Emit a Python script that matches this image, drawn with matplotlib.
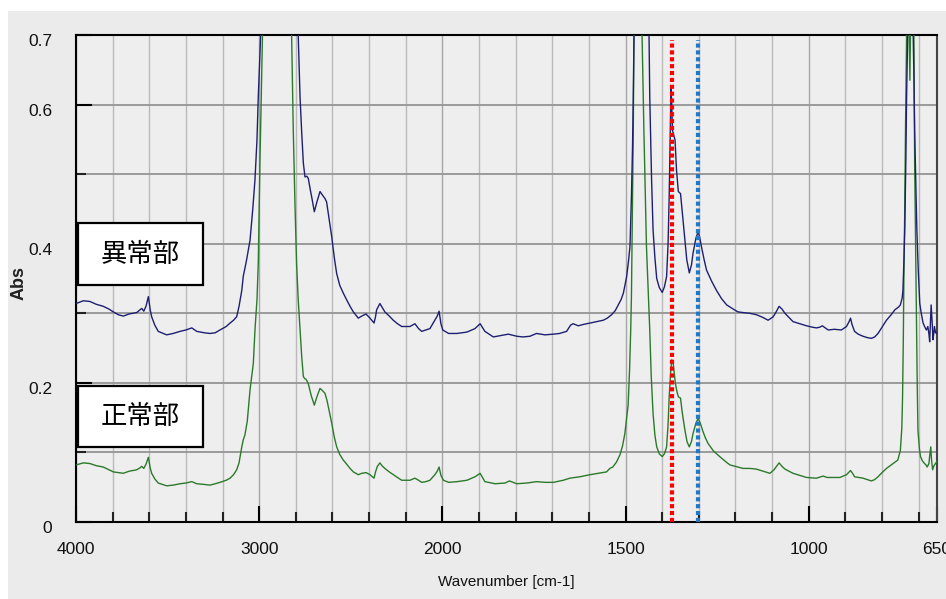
import numpy as np
import matplotlib
matplotlib.use("Agg")
import matplotlib.pyplot as plt
from matplotlib import font_manager
from matplotlib.patches import Rectangle
from matplotlib.transforms import ScaledTranslation

# ---------------- data ----------------
wn_abnormal = [
    4000, 3960, 3924, 3890, 3851, 3820, 3796, 3770, 3742, 3710, 3669, 3650, 3641, 3630, 3618, 3605,
    3595, 3587, 3570, 3551, 3505, 3470, 3432, 3400, 3368, 3341, 3300, 3269, 3240, 3214, 3180, 3159,
    3140, 3123, 3110, 3095, 3087, 3070, 3050, 3035, 3023, 3012, 3005, 2992, 2975, 2955, 2925, 2890,
    2855, 2830, 2810, 2795, 2787, 2777, 2768, 2759, 2750, 2740, 2732, 2720, 2714, 2699, 2685, 2668,
    2655, 2641, 2632, 2618, 2604, 2590, 2577, 2560, 2541, 2522, 2504, 2486, 2459, 2440, 2417, 2395,
    2373, 2365, 2359, 2341, 2330, 2314, 2290, 2268, 2245, 2222, 2177, 2150, 2130, 2113, 2090, 2068,
    2041, 2028, 2018, 2008, 1999, 1983, 1960, 1933, 1911, 1897, 1884, 1861, 1840, 1820, 1797, 1780,
    1761, 1743, 1720, 1697, 1680, 1661, 1650, 1643, 1629, 1615, 1597, 1580, 1561, 1550, 1538, 1528,
    1520, 1512, 1506, 1497, 1492, 1488, 1484, 1481, 1479, 1477, 1472, 1466, 1460, 1450, 1440, 1436,
    1434, 1432, 1429, 1425, 1420, 1415, 1408, 1400, 1394, 1388, 1384, 1381, 1378, 1376, 1374, 1372,
    1368, 1365, 1361, 1356, 1350, 1347, 1343, 1338, 1333, 1326, 1320, 1316, 1308, 1302, 1298, 1293,
    1286, 1279, 1265, 1252, 1238, 1224, 1215, 1200, 1193, 1179, 1161, 1143, 1125, 1111, 1097, 1088,
    1081, 1073, 1065, 1043, 1025, 1006, 990, 979, 970, 963, 955, 947, 930, 911, 897, 890,
    886, 882, 875, 865, 852, 840, 829, 820, 811, 800, 788, 775, 765, 755, 750, 745,
    743, 740, 738, 735, 733, 730, 725, 720, 715, 713, 711, 708, 705, 701, 697, 693,
    688, 683, 679, 675, 672, 670, 668, 666, 663, 661, 659, 657, 654, 650,
]
abs_abnormal = [
    0.314, 0.318, 0.317, 0.313, 0.310, 0.306, 0.302, 0.298, 0.296, 0.299, 0.301, 0.305, 0.307, 0.303, 0.310, 0.324,
    0.305, 0.295, 0.283, 0.274, 0.269, 0.271, 0.274, 0.276, 0.279, 0.274, 0.272, 0.271, 0.272, 0.276, 0.281, 0.286,
    0.290, 0.295, 0.310, 0.333, 0.353, 0.375, 0.405, 0.450, 0.492, 0.550, 0.611, 0.700, 0.950, 1.300, 1.600, 1.400,
    1.500, 1.100, 0.850, 0.750, 0.700, 0.611, 0.560, 0.516, 0.496, 0.497, 0.494, 0.476, 0.468, 0.446, 0.460, 0.475,
    0.470, 0.465, 0.460, 0.435, 0.410, 0.380, 0.357, 0.340, 0.329, 0.319, 0.310, 0.302, 0.293, 0.296, 0.299, 0.293,
    0.286, 0.295, 0.305, 0.314, 0.309, 0.302, 0.296, 0.290, 0.285, 0.281, 0.281, 0.285, 0.278, 0.274, 0.276, 0.278,
    0.290, 0.296, 0.303, 0.285, 0.276, 0.271, 0.271, 0.273, 0.278, 0.285, 0.274, 0.266, 0.268, 0.270, 0.267, 0.266,
    0.267, 0.271, 0.269, 0.270, 0.271, 0.274, 0.283, 0.285, 0.282, 0.284, 0.286, 0.288, 0.290, 0.293, 0.298, 0.304,
    0.312, 0.320, 0.329, 0.353, 0.375, 0.396, 0.468, 0.540, 0.611, 0.700, 1.400, 1.600, 1.300, 1.000, 0.780, 0.700,
    0.611, 0.563, 0.492, 0.420, 0.380, 0.350, 0.337, 0.330, 0.338, 0.353, 0.400, 0.468, 0.560, 0.623, 0.600, 0.563,
    0.555, 0.549, 0.506, 0.475, 0.472, 0.455, 0.434, 0.405, 0.377, 0.358, 0.370, 0.386, 0.408, 0.417, 0.410, 0.396,
    0.378, 0.362, 0.346, 0.333, 0.321, 0.312, 0.309, 0.304, 0.302, 0.301, 0.300, 0.298, 0.294, 0.290, 0.295, 0.303,
    0.310, 0.306, 0.300, 0.288, 0.285, 0.282, 0.280, 0.279, 0.280, 0.282, 0.279, 0.276, 0.277, 0.276, 0.281, 0.288,
    0.293, 0.284, 0.274, 0.270, 0.267, 0.265, 0.264, 0.266, 0.271, 0.280, 0.290, 0.298, 0.305, 0.309, 0.312, 0.322,
    0.333, 0.380, 0.420, 0.520, 0.611, 0.700, 1.100, 1.000, 0.700, 0.640, 0.563, 0.490, 0.420, 0.360, 0.314, 0.300,
    0.286, 0.280, 0.276, 0.281, 0.270, 0.259, 0.285, 0.312, 0.285, 0.262, 0.270, 0.281, 0.272, 0.271,
]

wn_normal = [
    4000, 3960, 3924, 3890, 3851, 3820, 3796, 3770, 3742, 3710, 3669, 3650, 3641, 3630, 3618, 3605,
    3595, 3587, 3570, 3551, 3505, 3470, 3432, 3400, 3368, 3341, 3300, 3269, 3240, 3214, 3180, 3159,
    3140, 3123, 3110, 3095, 3087, 3078, 3065, 3050, 3032, 3023, 3012, 3005, 2996, 2982, 2970, 2945,
    2920, 2880, 2850, 2835, 2823, 2814, 2805, 2796, 2787, 2777, 2768, 2759, 2751, 2744, 2732, 2722,
    2714, 2699, 2685, 2668, 2655, 2641, 2630, 2618, 2604, 2590, 2577, 2560, 2541, 2522, 2504, 2486,
    2459, 2440, 2417, 2395, 2373, 2365, 2355, 2341, 2330, 2314, 2290, 2268, 2245, 2222, 2177, 2150,
    2130, 2113, 2090, 2068, 2041, 2028, 2018, 2008, 1997, 1983, 1960, 1933, 1911, 1897, 1884, 1856,
    1829, 1817, 1797, 1770, 1743, 1720, 1697, 1670, 1652, 1625, 1597, 1575, 1552, 1543, 1535, 1525,
    1515, 1508, 1502, 1493, 1489, 1486, 1484, 1481, 1479, 1477, 1472, 1466, 1461, 1455, 1450, 1446,
    1443, 1438, 1434, 1430, 1425, 1420, 1415, 1408, 1400, 1394, 1388, 1384, 1381, 1377, 1374, 1370,
    1367, 1364, 1360, 1356, 1350, 1346, 1341, 1336, 1332, 1326, 1320, 1316, 1308, 1302, 1296, 1290,
    1283, 1275, 1260, 1243, 1225, 1215, 1193, 1179, 1160, 1143, 1125, 1106, 1095, 1088, 1081, 1073,
    1065, 1043, 1025, 1006, 979, 961, 950, 930, 915, 897, 886, 878, 875, 852, 840, 829,
    820, 811, 800, 788, 770, 757, 750, 746, 744, 742, 740, 738, 736, 733, 729, 724,
    720, 716, 713, 711, 708, 706, 704, 702, 698, 695, 690, 684, 680, 677, 674, 672,
    670, 667, 665, 662, 659, 657, 653, 650,
]
abs_normal = [
    0.082, 0.085, 0.084, 0.081, 0.079, 0.075, 0.072, 0.071, 0.070, 0.073, 0.075, 0.078, 0.080, 0.077, 0.083, 0.093,
    0.078, 0.070, 0.062, 0.056, 0.052, 0.053, 0.055, 0.056, 0.058, 0.055, 0.054, 0.053, 0.055, 0.057, 0.060, 0.063,
    0.068, 0.075, 0.085, 0.108, 0.118, 0.125, 0.145, 0.190, 0.228, 0.276, 0.320, 0.372, 0.516, 0.700, 0.900, 1.100,
    1.250, 1.100, 1.200, 0.900, 0.700, 0.563, 0.460, 0.372, 0.320, 0.276, 0.238, 0.209, 0.206, 0.205, 0.199, 0.188,
    0.180, 0.168, 0.180, 0.192, 0.189, 0.185, 0.175, 0.160, 0.142, 0.122, 0.108, 0.097, 0.089, 0.083, 0.077, 0.072,
    0.068, 0.070, 0.071, 0.068, 0.063, 0.072, 0.080, 0.085, 0.081, 0.077, 0.072, 0.068, 0.064, 0.060, 0.060, 0.063,
    0.060, 0.057, 0.058, 0.060, 0.068, 0.073, 0.079, 0.067, 0.060, 0.057, 0.058, 0.060, 0.065, 0.070, 0.058, 0.055,
    0.056, 0.059, 0.055, 0.056, 0.058, 0.057, 0.057, 0.060, 0.063, 0.065, 0.068, 0.070, 0.072, 0.077, 0.079, 0.086,
    0.097, 0.110, 0.127, 0.168, 0.220, 0.276, 0.324, 0.468, 0.563, 0.700, 1.100, 1.250, 1.050, 0.700, 0.563, 0.470,
    0.396, 0.330, 0.276, 0.210, 0.156, 0.125, 0.108, 0.098, 0.094, 0.098, 0.108, 0.140, 0.180, 0.215, 0.233, 0.228,
    0.213, 0.199, 0.188, 0.180, 0.178, 0.160, 0.142, 0.126, 0.115, 0.108, 0.116, 0.127, 0.142, 0.149, 0.142, 0.132,
    0.122, 0.113, 0.102, 0.094, 0.086, 0.082, 0.079, 0.077, 0.077, 0.076, 0.073, 0.070, 0.075, 0.080, 0.085, 0.080,
    0.076, 0.070, 0.067, 0.064, 0.063, 0.066, 0.064, 0.064, 0.064, 0.068, 0.074, 0.068, 0.065, 0.063, 0.061, 0.059,
    0.061, 0.065, 0.071, 0.077, 0.084, 0.089, 0.103, 0.135, 0.180, 0.260, 0.372, 0.450, 0.563, 0.700, 0.800, 0.635,
    0.800, 0.720, 0.700, 0.516, 0.380, 0.276, 0.200, 0.132, 0.105, 0.094, 0.088, 0.084, 0.082, 0.079, 0.082, 0.084,
    0.095, 0.108, 0.090, 0.075, 0.080, 0.082, 0.085, 0.087,
]

marker_red_wn = 1372
marker_blue_wn = 1302

x_major_ticks = [4000, 3000, 2000, 1500, 1000, 650]
x_major_labels = ["4000", "3000", "2000", "1500", "1000", "650"]
x_minor_ticks = [3800, 3600, 3400, 3200, 2800, 2600, 2400, 2200,
                 1900, 1800, 1700, 1600, 1400, 1300, 1200, 1100, 900, 800, 700]
y_major_ticks = [0, 0.2, 0.4, 0.6, 0.7]
y_major_labels = ["0", "0.2", "0.4", "0.6", "0.7"]
y_minor_ticks = [0.1, 0.3, 0.5]

label_abnormal = "異常部"
label_normal = "正常部"

# ---------------- fonts ----------------
names = {f.name for f in font_manager.fontManager.ttflist}
narrow = "Liberation Sans Narrow" if "Liberation Sans Narrow" in names else "Liberation Sans"

# ---------------- figure ----------------
W, H = 946, 599
fig = plt.figure(figsize=(W / 100, H / 100), dpi=100, facecolor="white")
fig.add_artist(Rectangle((8 / W, 0), (W - 8) / W, (H - 11) / H, transform=fig.transFigure,
                         facecolor="#ebebeb", edgecolor="none", zorder=-10))

ax_l, ax_r, ax_t, ax_b = 76, 937, 35, 522
ax = fig.add_axes([ax_l / W, (H - ax_b) / H, (ax_r - ax_l) / W, (ax_b - ax_t) / H])
ax.set_facecolor("#eeeeee")


def fwd(w):
    w = np.asarray(w, dtype=float)
    return np.where(w > 2000, 2000 + (w - 2000) * 0.5, w)


def inv(u):
    u = np.asarray(u, dtype=float)
    return np.where(u > 2000, 2000 + (u - 2000) * 2.0, u)


ax.set_xscale("function", functions=(fwd, inv))
ax.set_xlim(4000, 650)
ax.set_ylim(0, 0.7)

ax.plot(wn_normal, abs_normal, color="#2b7a2b", lw=1.0, zorder=3)
ax.plot(wn_abnormal, abs_abnormal, color="#1f1f72", lw=1.0, zorder=3)

ax.axvline(marker_red_wn, ymin=0, ymax=0.99, color="#ff0000", lw=3.0,
           linestyle=(0, (1.0, 0.65)), zorder=5)
ax.axvline(marker_blue_wn, ymin=0, ymax=0.99, color="#1f78c8", lw=3.0,
           linestyle=(0, (1.0, 0.65)), zorder=5)

# ticks
ax.set_xticks(x_major_ticks)
ax.set_xticklabels(x_major_labels)
ax.set_xticks(x_minor_ticks, minor=True)
ax.set_yticks(y_major_ticks)
ax.set_yticklabels(y_major_labels)
ax.set_yticks(y_minor_ticks, minor=True)

ax.tick_params(axis="both", which="major", direction="in", length=11.5, width=1.5,
               color="black", labelsize=12.5, labelcolor="#111111")
ax.tick_params(axis="both", which="minor", direction="in", length=7.2, width=1.5, color="#222222")
ax.tick_params(axis="x", which="major", pad=14.5)
ax.tick_params(axis="y", which="major", pad=17)
for lab in ax.get_xticklabels() + ax.get_yticklabels():
    lab.set_family(narrow)

# grid
ax.grid(True, axis="x", which="major", color="#a6a6a6", lw=1.0, zorder=1)
ax.grid(True, axis="x", which="minor", color="#bababa", lw=1.0, zorder=1)
ax.grid(True, axis="y", which="both", color="#9a9a9a", lw=1.4, zorder=1)
ax.set_axisbelow(True)

for side in ["left", "bottom", "top", "right"]:
    ax.spines[side].set_color("black")
    ax.spines[side].set_linewidth(1.5)
ax.spines["right"].set_color("#444444")

# axis labels
ax.set_xlabel("Wavenumber [cm-1]", fontsize=11, family=narrow, color="#111111")
ax.xaxis.set_label_coords(0.5, -0.108)
ax.set_ylabel("Abs", fontsize=13, family="Liberation Sans", fontweight="bold", color="#222222")
ax.yaxis.set_label_coords(-0.056, 0.491)

# boxed labels
aw, ah = ax_r - ax_l, ax_b - ax_t
for (top, bot, txt) in [(223, 285, label_abnormal), (386, 447, label_normal)]:
    x0 = (77.7 - ax_l) / aw
    x1 = (202.7 - ax_l) / aw
    y0 = (ax_b - bot) / ah
    y1 = (ax_b - top) / ah
    ax.add_patch(Rectangle((x0, y0), x1 - x0, y1 - y0, transform=ax.transAxes,
                           facecolor="white", edgecolor="black", lw=1.6, zorder=6, clip_on=False))
    ax.text((x0 + x1) / 2, (y0 + y1) / 2, txt, transform=ax.transAxes, ha="center", va="center",
            fontsize=19, family=["Noto Sans CJK JP", "DejaVu Sans"], color="black", zorder=7)

# shift y tick labels slightly downward like the reference
off = ScaledTranslation(0, -5 / 100, fig.dpi_scale_trans)
for t in ax.yaxis.get_major_ticks():
    t.label1.set_transform(t.label1.get_transform() + off)

fig.savefig("out.png", dpi=100, facecolor=fig.get_facecolor())
